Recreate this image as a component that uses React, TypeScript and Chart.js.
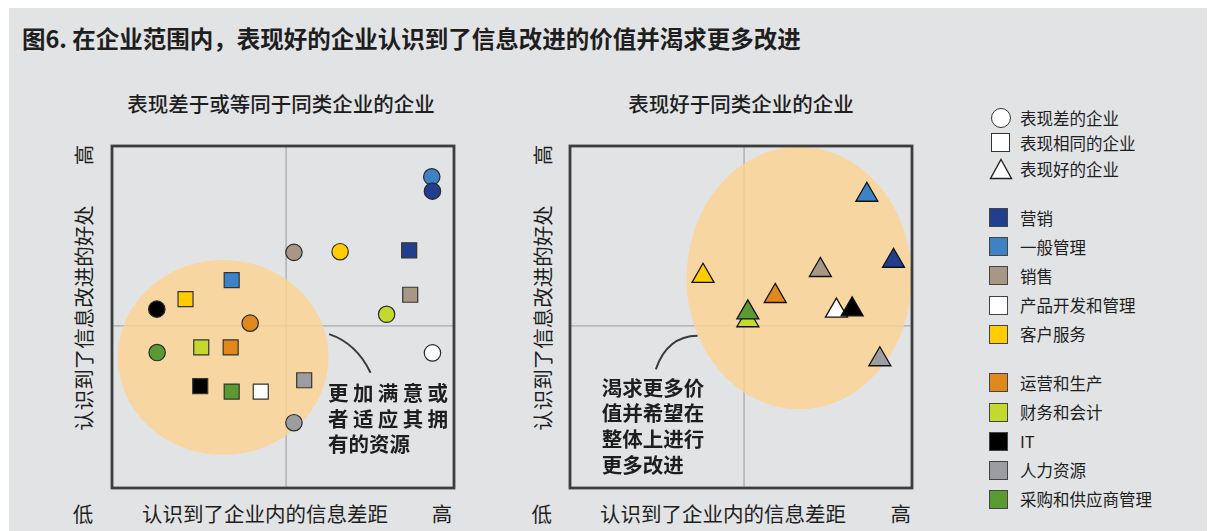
import React, { useEffect, useRef } from "react";
import { Chart, registerables } from "chart.js";

Chart.register(...registerables);

// ---------- text ----------
const TITLE = "图6. 在企业范围内，表现好的企业认识到了信息改进的价值并渴求更多改进";
const LEFT_SUBTITLE = "表现差于或等同于同类企业的企业";
const RIGHT_SUBTITLE = "表现好于同类企业的企业";
const X_AXIS_LABEL = "认识到了企业内的信息差距";
const Y_AXIS_LABEL = "认识到了信息改进的好处";
const LOW_LABEL = "低";
const HIGH_LABEL = "高";
const LEFT_NOTE = ["更加满意或", "者适应其拥", "有的资源"];
const RIGHT_NOTE = ["渴求更多价", "值并希望在", "整体上进行", "更多改进"];

// ---------- categories ----------
const GROUPS = ["表现差的企业", "表现相同的企业", "表现好的企业"];
const DEPARTMENTS = [
  "营销",
  "一般管理",
  "销售",
  "产品开发和管理",
  "客户服务",
  "运营和生产",
  "财务和会计",
  "IT",
  "人力资源",
  "采购和供应商管理",
];
const DEPT_COLORS = [
  "#213f8e",
  "#3e82c6",
  "#a89786",
  "#ffffff",
  "#ffcc00",
  "#e0881c",
  "#c3d92d",
  "#000000",
  "#9c9da0",
  "#5b9a33",
];

// ---------- values (0–100 scale, in DEPARTMENTS order) ----------
const POOR_X = [93.7, 93.5, 53.2, 93.7, 66.7, 40.4, 80.3, 13.1, 53.2, 13.2];
const POOR_Y = [86.8, 91.0, 68.9, 39.5, 69.1, 48.2, 50.8, 52.3, 19.1, 39.6];
const SAME_X = [86.9, 35.0, 87.2, 43.5, 21.5, 34.7, 26.1, 25.8, 56.2, 35.0];
const SAME_Y = [69.5, 60.8, 56.5, 28.2, 55.2, 41.1, 41.1, 29.8, 31.5, 28.2];
const GOOD_X = [94.6, 86.8, 73.2, 77.9, 38.9, 60.0, 52.0, 82.5, 90.6, 52.0];
const GOOD_Y = [66.4, 85.7, 63.7, 51.8, 62.0, 56.1, 49.0, 52.2, 37.6, 51.3];

// quadrant dividers (data units)
const MID_X = 50.9;
const MID_Y = 47.4;

// highlight ellipses (data units): [cx, cy, rx, ry]
const LEFT_ELLIPSE = [32.5, 38.2, 30.8, 28.5];
const RIGHT_ELLIPSE = [67.0, 61.4, 32.9, 38.4];

// connector curves (data units): [sx, sy, cx, cy, ex, ey]
const LEFT_CONNECTOR = [63.5, 45.0, 71.5, 42.3, 75.6, 33.7];
const RIGHT_CONNECTOR = [37.3, 44.5, 28.4, 44.4, 25.1, 34.7];

const FONT = "'Noto Sans CJK SC', 'Noto Sans', sans-serif";
const TEXT_COLOR = "#1e1e1e";
const BG = "#e2e3e5";

const quadPlugin = {
  id: "quad",
  beforeDatasetsDraw(chart: any, _args: any, opts: any) {
    const { ctx, chartArea } = chart;
    const xs = chart.scales.x;
    const ys = chart.scales.y;
    ctx.save();
    // quadrant lines
    ctx.strokeStyle = "#a9aaac";
    ctx.lineWidth = 1.3;
    ctx.beginPath();
    const mx = xs.getPixelForValue(MID_X);
    const my = ys.getPixelForValue(MID_Y);
    ctx.moveTo(mx, chartArea.top);
    ctx.lineTo(mx, chartArea.bottom);
    ctx.moveTo(chartArea.left, my);
    ctx.lineTo(chartArea.right, my);
    ctx.stroke();
    // ellipse
    ctx.save();
    ctx.beginPath();
    ctx.rect(chartArea.left, chartArea.top, chartArea.right - chartArea.left, chartArea.bottom - chartArea.top);
    ctx.clip();
    const [cx, cy, rx, ry] = opts.ellipse;
    const pcx = xs.getPixelForValue(cx);
    const pcy = ys.getPixelForValue(cy);
    const prx = Math.abs(xs.getPixelForValue(cx + rx) - pcx);
    const pry = Math.abs(ys.getPixelForValue(cy + ry) - pcy);
    ctx.beginPath();
    ctx.ellipse(pcx, pcy, prx, pry, 0, 0, Math.PI * 2);
    ctx.fillStyle = "rgba(252,211,147,0.82)";
    ctx.fill();
    ctx.restore();
    // connector
    const c = opts.connector;
    ctx.beginPath();
    ctx.moveTo(xs.getPixelForValue(c[0]), ys.getPixelForValue(c[1]));
    ctx.quadraticCurveTo(
      xs.getPixelForValue(c[2]),
      ys.getPixelForValue(c[3]),
      xs.getPixelForValue(c[4]),
      ys.getPixelForValue(c[5])
    );
    ctx.strokeStyle = "#3a3a3a";
    ctx.lineWidth = 2;
    ctx.stroke();
    ctx.restore();
  },
  afterDraw(chart: any) {
    const { ctx, chartArea } = chart;
    ctx.save();
    ctx.strokeStyle = "#3d3d3d";
    ctx.lineWidth = 2.8;
    ctx.strokeRect(chartArea.left, chartArea.top, chartArea.right - chartArea.left, chartArea.bottom - chartArea.top);
    ctx.restore();
  },
};

function makePoints(xsArr: number[], ysArr: number[]) {
  return xsArr.map((x, i) => ({ x, y: ysArr[i] }));
}

function ScatterPanel(props: { datasets: any[]; ellipse: number[]; connector: number[]; left: number; top: number }) {
  const ref = useRef<HTMLCanvasElement>(null);
  useEffect(() => {
    if (!ref.current) return;
    const chart = new Chart(ref.current, {
      type: "scatter",
      data: { datasets: props.datasets },
      options: {
        animation: false,
        responsive: false,
        maintainAspectRatio: false,
        layout: { padding: 6, autoPadding: false } as any,
        scales: {
          x: { type: "linear", min: 0, max: 100, display: false },
          y: { type: "linear", min: 0, max: 100, display: false },
        },
        plugins: {
          legend: { display: false },
          tooltip: { enabled: false },
          quad: { ellipse: props.ellipse, connector: props.connector },
        } as any,
      },
      plugins: [quadPlugin as any],
    });
    return () => chart.destroy();
  }, []);
  return (
    <canvas
      ref={ref}
      width={354}
      height={354}
      style={{ position: "absolute", left: props.left, top: props.top, width: 354, height: 354 }}
    />
  );
}

function Txt(props: {
  x: number;
  y: number;
  text: string;
  size: number;
  weight?: number;
  rotate?: boolean;
  align?: "center" | "left";
  spacing?: number;
}) {
  const center = props.align !== "left";
  const tf = center
    ? `translate(-50%,-50%)${props.rotate ? " rotate(-90deg)" : ""}`
    : "translate(0,-50%)";
  return (
    <div
      style={{
        position: "absolute",
        left: props.x,
        top: props.y,
        transform: tf,
        fontFamily: FONT,
        fontSize: props.size,
        fontWeight: props.weight ?? 400,
        color: TEXT_COLOR,
        lineHeight: 1,
        whiteSpace: "nowrap",
        letterSpacing: props.spacing ?? 0,
      }}
    >
      {props.text}
    </div>
  );
}

const DEPT_ROWS_Y = [217.7, 246.7, 275.7, 305, 334.3, 382.7, 412, 441, 470, 499.3];
const GROUP_ROWS_Y = [118.3, 142.5, 168.5];

export default function App() {
  const poor = makePoints(POOR_X, POOR_Y);
  const same = makePoints(SAME_X, SAME_Y);
  const good = makePoints(GOOD_X, GOOD_Y);

  const leftDatasets = [
    {
      label: GROUPS[1],
      data: same,
      pointStyle: "rect",
      pointRadius: 10.6,
      backgroundColor: DEPT_COLORS,
      borderColor: "#333333",
      borderWidth: 1.2,
    },
    {
      label: GROUPS[0],
      data: poor.slice().reverse(),
      pointStyle: "circle",
      pointRadius: 8.2,
      backgroundColor: DEPT_COLORS.slice().reverse(),
      borderColor: "#2a2a2a",
      borderWidth: 1.2,
    },
  ];
  const rightDatasets = [
    {
      label: GROUPS[2],
      data: good,
      pointStyle: "triangle",
      pointRadius: 12.7,
      backgroundColor: DEPT_COLORS,
      borderColor: "#111111",
      borderWidth: 1.3,
    },
  ];

  return (
    <div style={{ position: "absolute", left: 0, top: 0, width: 1208, height: 531 }}>
      <div style={{ position: "absolute", left: 9, top: 8, width: 1198, height: 523, background: BG }} />
      <Txt x={22} y={38.5} text={TITLE} size={23.5} weight={700} align="left" />

      <Txt x={281} y={102.5} text={LEFT_SUBTITLE} size={20.5} weight={500} />
      <Txt x={741} y={102.5} text={RIGHT_SUBTITLE} size={20.5} weight={500} />

      <ScatterPanel datasets={leftDatasets} ellipse={LEFT_ELLIPSE} connector={LEFT_CONNECTOR} left={106} top={140} />
      <ScatterPanel datasets={rightDatasets} ellipse={RIGHT_ELLIPSE} connector={RIGHT_CONNECTOR} left={564} top={140} />

      {/* left axes text */}
      <Txt x={83} y={155} text={HIGH_LABEL} size={20.5} rotate />
      <Txt x={83} y={318} text={Y_AXIS_LABEL} size={20.5} rotate />
      <Txt x={83} y={513} text={LOW_LABEL} size={20.5} />
      <Txt x={265} y={513} text={X_AXIS_LABEL} size={20.5} />
      <Txt x={442} y={513} text={HIGH_LABEL} size={20.5} />

      {/* right axes text */}
      <Txt x={541.7} y={155} text={HIGH_LABEL} size={20.5} rotate />
      <Txt x={541.7} y={318} text={Y_AXIS_LABEL} size={20.5} rotate />
      <Txt x={541.7} y={513} text={LOW_LABEL} size={20.5} />
      <Txt x={723} y={513} text={X_AXIS_LABEL} size={20.5} />
      <Txt x={900.7} y={513} text={HIGH_LABEL} size={20.5} />

      {/* notes */}
      {LEFT_NOTE.map((t, i) => (
        <Txt key={"ln" + i} x={328} y={392 + i * 25.5} text={t} size={20.5} weight={700} align="left" spacing={i < 2 ? 4.4 : 0} />
      ))}
      {RIGHT_NOTE.map((t, i) => (
        <Txt key={"rn" + i} x={601.7} y={386.7 + i * 25.6} text={t} size={20.5} weight={700} align="left" />
      ))}

      {/* legend: shapes */}
      <div
        style={{
          position: "absolute",
          left: 991,
          top: GROUP_ROWS_Y[0] - 10,
          width: 20,
          height: 20,
          boxSizing: "border-box",
          borderRadius: "50%",
          border: "1.5px solid #333",
          background: "#fff",
        }}
      />
      <div
        style={{
          position: "absolute",
          left: 991,
          top: GROUP_ROWS_Y[1] - 9.5,
          width: 19,
          height: 19,
          boxSizing: "border-box",
          border: "1.5px solid #333",
          background: "#fff",
        }}
      />
      <svg style={{ position: "absolute", left: 989, top: GROUP_ROWS_Y[2] - 11 }} width={24} height={22}>
        <polygon points="12,1.5 22.5,20.5 1.5,20.5" fill="#fff" stroke="#222" strokeWidth={1.4} />
      </svg>
      {GROUPS.map((g, i) => (
        <Txt key={"g" + i} x={1020} y={GROUP_ROWS_Y[i]} text={g} size={16.5} align="left" />
      ))}

      {/* legend: departments */}
      {DEPARTMENTS.map((d, i) => (
        <React.Fragment key={"d" + i}>
          <div
            style={{
              position: "absolute",
              left: 989,
              top: DEPT_ROWS_Y[i] - 9.5,
              width: 19,
              height: 19,
              boxSizing: "border-box",
              border: "1.2px solid #444",
              background: DEPT_COLORS[i],
            }}
          />
          <Txt x={1020} y={DEPT_ROWS_Y[i]} text={d} size={16.5} align="left" />
        </React.Fragment>
      ))}
    </div>
  );
}
